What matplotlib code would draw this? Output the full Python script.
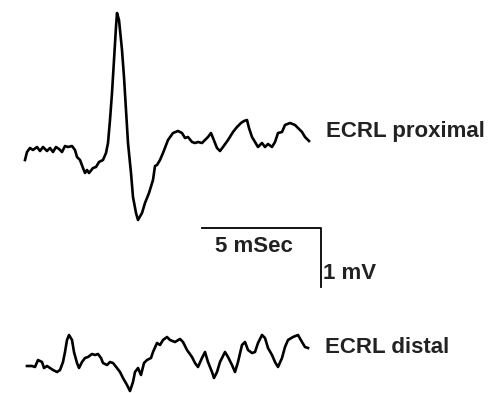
import numpy as np
import matplotlib.pyplot as plt

# traced positions of the two recordings, drawn on a canvas-sized axes
prox_x = [25, 27, 30, 33, 37, 40, 43, 47, 50, 53, 56, 59, 62, 65, 68, 72, 75, 77, 80, 83,
          85, 87, 89, 93, 96, 99, 103, 106, 108, 110, 112, 114, 116, 117, 119, 122, 124,
          126, 128, 131, 133, 136, 138, 142, 145, 149, 153, 155, 157, 160, 163, 168, 173,
          178, 182, 185, 188, 192, 195, 198, 202, 205, 208, 211, 213, 217, 220, 223, 228,
          233, 237, 241, 244, 247, 249, 252, 255, 258, 262, 265, 268, 272, 275, 278, 282,
          285, 290, 295, 298, 302, 305, 309]
prox_y = [160, 152, 148, 150, 147, 151, 147, 151, 148, 152, 147, 149, 152, 146, 147, 146, 150, 157, 160, 168,
          173, 170, 173, 168, 167, 162, 160, 153, 143, 120, 93, 60, 27, 13, 20, 50, 77,
          110, 143, 173, 197, 213, 220, 213, 203, 193, 180, 166, 165, 160, 153, 140, 133,
          131, 133, 138, 137, 142, 143, 142, 143, 140, 137, 133, 138, 148, 151, 147, 140,
          132, 127, 123, 121, 120, 128, 137, 142, 147, 143, 147, 144, 147, 142, 133, 132,
          125, 123, 125, 128, 132, 137, 141]

dist_x = [27, 32, 35, 38, 42, 44, 47, 50, 53, 57, 60, 63, 65, 67, 69, 72, 74, 77, 79, 82,
          85, 88, 92, 95, 98, 101, 103, 107, 110, 113, 117, 120, 123, 127, 130, 133, 135,
          138, 141, 144, 147, 151, 153, 157, 160, 163, 167, 170, 175, 180, 183, 187, 192,
          195, 198, 202, 205, 208, 212, 214, 217, 220, 225, 228, 232, 235, 238, 242, 245,
          248, 252, 255, 258, 262, 265, 268, 272, 275, 278, 282, 285, 288, 293, 298, 302,
          305, 308]
dist_y = [366, 366, 367, 360, 362, 368, 366, 368, 370, 372, 370, 362, 352, 340, 335, 340, 352, 363, 368, 362,
          358, 357, 354, 355, 354, 358, 363, 365, 362, 363, 368, 372, 378, 385, 391, 382, 372,
          368, 375, 363, 360, 358, 352, 343, 345, 340, 337, 340, 342, 339, 342, 350, 357,
          363, 367, 358, 352, 362, 372, 378, 372, 362, 352, 357, 365, 372, 362, 345, 342,
          350, 353, 352, 343, 335, 338, 348, 355, 362, 367, 358, 347, 340, 337, 335, 342,
          347, 348]

labels = ["ECRL proximal", "ECRL distal"]
scale_labels = ["5 mSec", "1 mV"]

fig = plt.figure(figsize=(4.93, 3.93), dpi=100)
ax = fig.add_axes([0, 0, 1, 1])
ax.set_xlim(0, 493)
ax.set_ylim(393, 0)
ax.axis("off")

ax.plot(prox_x, prox_y, color="black", lw=1.9, solid_joinstyle="round")
ax.plot(dist_x, dist_y, color="black", lw=1.9, solid_joinstyle="round")

font = dict(family="Liberation Sans", fontweight="bold", fontsize=16, color="#222222")
ax.text(326, 137, labels[0], va="baseline", ha="left", **font)
ax.text(325, 353, labels[1], va="baseline", ha="left", **font)

# scale bar
ax.plot([202, 321, 321], [228, 228, 287], color="black", lw=1.3)
ax.text(215, 252, scale_labels[0], va="baseline", ha="left", **font)
ax.text(323, 279, scale_labels[1], va="baseline", ha="left", **font)

fig.savefig("out.png", dpi=100)
